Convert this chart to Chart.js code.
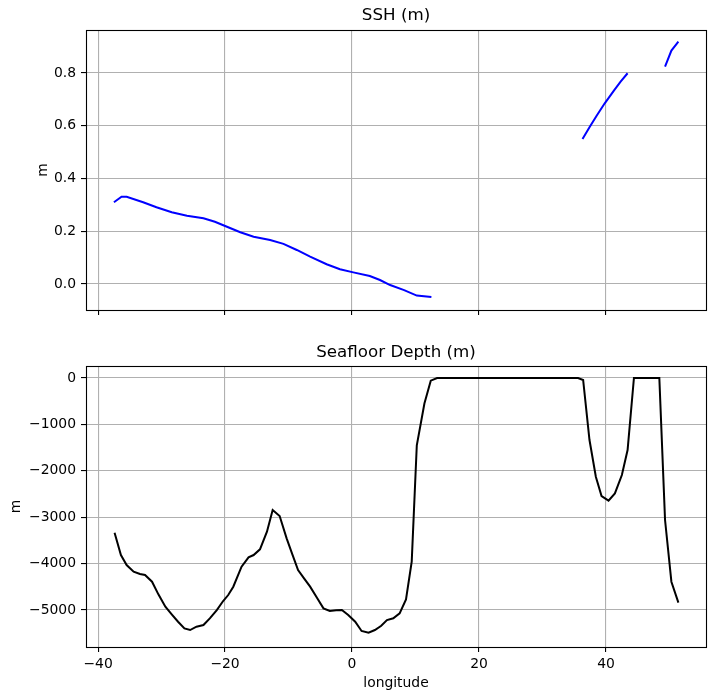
<!DOCTYPE html>
<html><head><meta charset="utf-8">
<script src="https://cdn.jsdelivr.net/npm/chart.js@4"></script>
<style>body{margin:0;background:#fff}canvas{position:absolute;left:0}</style>
</head><body>
<canvas id="c1" width="716" height="340" style="top:0"></canvas>
<canvas id="c2" width="716" height="359" style="top:340px"></canvas>
<script>
// ---- data ----
const sshLon = [-37.5,-36.3,-35.5,-32.9,-30.8,-28.4,-26.0,-23.4,-21.6,-19.7,-17.6,-15.5,-12.9,-10.8,-8.7,-6.6,-4.0,-1.9,0.2,2.8,4.4,6.0,8.2,10.2,12.5,24,36.3,37.4,38.5,39.8,41.3,42.3,43.4,46,49.3,50.3,51.4];
const ssh = [0.310,0.331,0.331,0.310,0.291,0.272,0.259,0.249,0.236,0.217,0.196,0.179,0.167,0.152,0.129,0.104,0.075,0.056,0.044,0.030,0.015,-0.004,-0.023,-0.044,-0.049,null,0.550,0.594,0.637,0.685,0.735,0.767,0.799,null,0.824,0.885,0.919];
const depthLon = [-37.4,-36.4,-35.5,-34.4,-33.4,-32.6,-31.5,-30.5,-29.4,-28.4,-27.4,-26.4,-25.5,-24.5,-23.4,-22.4,-21.3,-20.3,-19.5,-18.7,-17.4,-16.3,-15.5,-14.5,-13.4,-12.5,-11.4,-10.3,-9.4,-8.5,-7.5,-6.6,-5.5,-4.5,-3.5,-2.5,-1.6,-0.6,0.5,1.5,2.6,3.6,4.6,5.5,6.5,7.5,8.5,9.4,10.2,11.4,12.4,13.4,35.6,36.4,37.4,38.4,39.3,40.4,41.4,42.5,43.4,44.4,48.4,49.3,50.3,51.4];
const depth = [-3334,-3815,-4030,-4174,-4224,-4245,-4390,-4662,-4928,-5093,-5252,-5395,-5431,-5359,-5323,-5179,-5000,-4806,-4677,-4497,-4066,-3864,-3815,-3692,-3312,-2845,-2974,-3455,-3800,-4138,-4330,-4497,-4740,-4964,-5022,-5005,-5000,-5108,-5252,-5452,-5489,-5431,-5340,-5216,-5179,-5072,-4770,-3958,-1450,-550,-57,0,0,-43,-1336,-2127,-2543,-2644,-2486,-2091,-1552,0,0,-3060,-4390,-4842];
const xTicks = [-40,-20,0,20,40];
const sshTicks = [0.0,0.2,0.4,0.6,0.8];
const depthTicks = [-5000,-4000,-3000,-2000,-1000,0];
const xRange = [-41.9, 55.75];
const sshRange = [-0.0986, 0.963];
const depthRange = [-5797, 259];

const FONT = 'DejaVu Sans';
const tickFont = {family: FONT, size: 13.9};
const minus = s => String(s).replace('-', '\u2212');
const frame = {id:'frame', afterDraw(c){
  const a=c.chartArea,x=c.ctx;x.save();x.strokeStyle='#000';x.lineWidth=1.1;
  x.strokeRect(Math.round(a.left)+0.5,Math.round(a.top)+0.5,Math.round(a.right-a.left),Math.round(a.bottom-a.top));
  const t=c.options.plugins.axTitle;
  x.fillStyle='#000';x.font='16.7px "'+FONT+'"';x.textAlign='center';x.textBaseline='middle';
  x.fillText(t.text,(a.left+a.right)/2,t.y);
  x.restore();}};
const gridOpts = {color:'#b0b0b0', lineWidth:1.1, tickColor:'#000', tickLength:5, tickWidth:1.1};

function mk(id, lon, vals, color, yr, yticks, yfmt, title, topPad, titleY, yTitlePad, xLabels, xAxisH){
  return new Chart(document.getElementById(id), {
    type:'line',
    data:{datasets:[{data: lon.map((x,i)=>({x, y: vals[i]})), borderColor:color, borderWidth:2, pointRadius:0, tension:0, spanGaps:false, fill:false}]},
    options:{
      responsive:false, animation:false, devicePixelRatio:1,
      layout:{padding:{left:0,right:10,top:topPad,bottom:0}},
      plugins:{legend:{display:false}, tooltip:{enabled:false}, title:{display:false},
        axTitle:{text:title, y:titleY}},
      scales:{
        x:{type:'linear', min:xRange[0], max:xRange[1], grid:gridOpts, border:{display:false},
           afterBuildTicks:s=>{s.ticks=xTicks.map(v=>({value:v}));},
           afterFit:s=>{s.height=xAxisH;},
           ticks:{display:xLabels, color:'#000', font:tickFont, padding:4, maxRotation:0, callback:v=>minus(v)},
           title:{display:xLabels, text:'longitude', color:'#000', font:{family:FONT,size:13.9}, padding:{top:0,bottom:7.6}}},
        y:{type:'linear', min:yr[0], max:yr[1], grid:gridOpts, border:{display:false},
           afterBuildTicks:s=>{s.ticks=yticks.map(v=>({value:v}));},
           afterFit:s=>{s.width=86;},
           ticks:{color:'#000', font:tickFont, padding:5, callback:yfmt},
           title:{display:true, text:'m', color:'#000', font:{family:FONT,size:13.9}, padding:{top:yTitlePad,bottom:0}}}
      }
    },
    plugins:[frame]
  });
}
mk('c1', sshLon, ssh, '#0000ff', sshRange, sshTicks, v=>minus(v.toFixed(1)), 'SSH (m)', 30, 16, 35, false, 30);
mk('c2', depthLon, depth, '#000000', depthRange, depthTicks, v=>minus(v), 'Seafloor Depth (m)', 26, 13, 8, true, 52);
</script>
</body></html>
